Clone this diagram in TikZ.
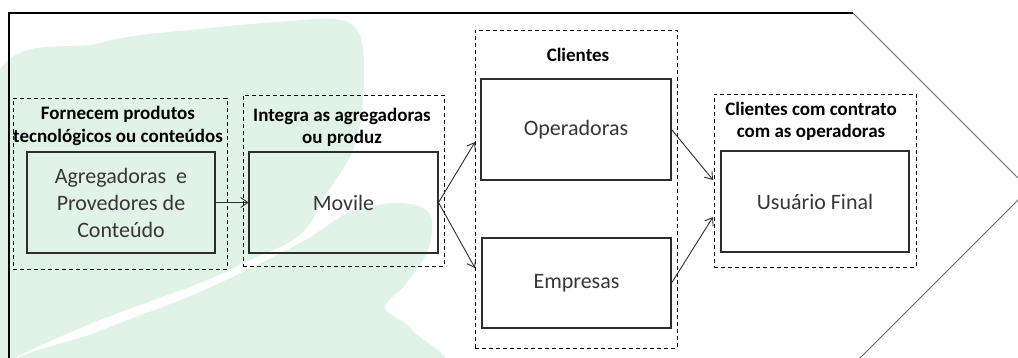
\documentclass[tikz,border=0pt]{standalone}
\usepackage{fontspec}
\setmainfont{Carlito}
\usetikzlibrary{arrows.meta}
\definecolor{wm}{RGB}{225,242,231}
\definecolor{txt}{RGB}{55,55,55}
\definecolor{boxc}{RGB}{45,45,45}
\begin{document}
\begin{tikzpicture}[x=1pt,y=-1pt,
  solidbox/.style={draw=boxc, line width=1.1pt, inner sep=0pt, align=center,
     text=txt, font=\fontsize{22}{27}\selectfont},
  dashbox/.style={draw=black, line width=0.9pt, dash pattern=on 4pt off 3pt, inner sep=0pt},
  titletext/.style={align=center, text=black, inner sep=0pt, font=\fontsize{19}{22.5}\selectfont\bfseries},
  conn/.style={draw=boxc, line width=0.9pt, -{Straight Barb[length=7pt,width=10pt,line width=0.9pt]}}]
\useasboundingbox (0,0) rectangle (1018,358);
\begin{scope}
\clip (0,0) rectangle (1018,358);
% watermark leaves
\fill[wm] plot[smooth cycle, tension=0.6] coordinates {(-8,86) (100,43) (200,29) (290,21) (332,19) (354,26) (363,50) (363,100) (353,150) (327,193) (300,235) (250,260) (200,283) (100,320) (20,355) (-8,372)};
\fill[wm] plot[smooth cycle, tension=0.55] coordinates {(30,366) (100,331) (200,292) (300,243) (350,212) (400,203) (430,214) (428,250) (405,285) (385,308) (412,330) (422,372)};
% outline of the big arrow
\draw[black, line width=1.4pt] (9,420) -- (9,13) -- (853,13);
\draw[black!60, line width=1pt] (853,13) -- (1029,189) -- (853,365);
\end{scope}
% dashed groups
\node[dashbox, minimum width=214pt, minimum height=171pt] (d1) at (120,183.5) {};
\node[dashbox, minimum width=201pt, minimum height=171pt] (d2) at (343.5,180.5) {};
\node[dashbox, minimum width=202pt, minimum height=318pt] (d3) at (576,189) {};
\node[dashbox, minimum width=202pt, minimum height=173pt] (d4) at (815,180.5) {};
% titles
\node[titletext] (t1) at (118,126) {Fornecem produtos\\tecnológicos ou conteúdos};
\node[titletext] (t2) at (342,127.5) {Integra as agregadoras\\ou produz};
\node[titletext] (t3) at (578,55) {Clientes};
\node[titletext] (t4) at (811,121.5) {Clientes com contrato\\com as operadoras};
% solid boxes
\node[solidbox, minimum width=188pt, minimum height=101pt] (ag) at (121,202.5) {Agregadoras\ \ e\\Provedores de\\Conteúdo};
\node[solidbox, minimum width=189pt, minimum height=101pt] (mv) at (343.5,202.5) {Movile};
\node[solidbox, minimum width=190pt, minimum height=101pt] (op) at (576,129.5) {Operadoras};
\node[solidbox, minimum width=189pt, minimum height=90pt] (em) at (576.5,283) {Empresas};
\node[solidbox, minimum width=188pt, minimum height=101pt] (uf) at (815,201.5) {Usuário Final};
% arrow end points
\coordinate (c1) at (475,142);
\coordinate (c2) at (475,268);
\coordinate (c3) at (713,180);
\coordinate (c4) at (713,217);
% connectors
\draw[conn] (ag.east) -- (mv.west);
\draw[conn] (mv.east) -- (c1);
\draw[conn] (mv.east) -- (c2);
\draw[conn] (op.east) -- (c3);
\draw[conn] (em.east) -- (c4);
\end{tikzpicture}
\end{document}
